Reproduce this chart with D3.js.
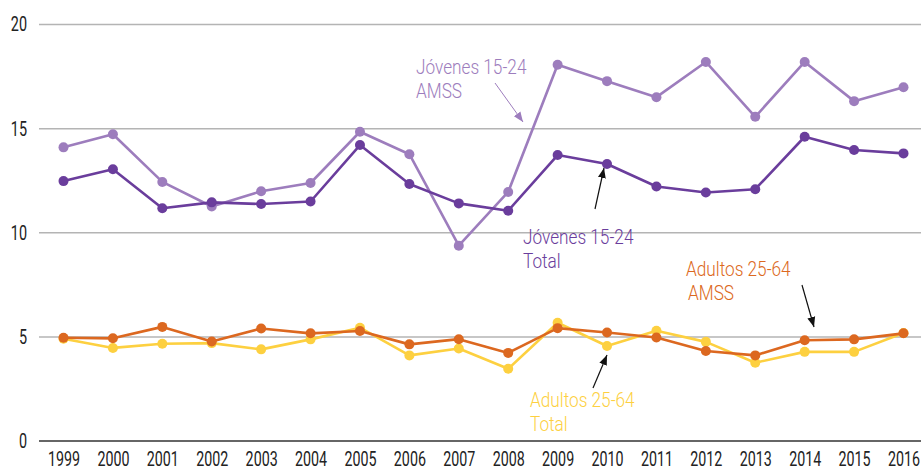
<!DOCTYPE html>
<html>
<head>
<meta charset="utf-8">
<script src="https://cdn.jsdelivr.net/npm/d3@7"></script>
<style>
  html, body { margin: 0; padding: 0; background: #fff; }
  svg { display: block; }
  text { font-family: Roboto, "DejaVu Sans", sans-serif; }
</style>
</head>
<body>
<svg id="chart" width="921" height="471"></svg>
<script>
// Years on the horizontal axis
const years = [1999, 2000, 2001, 2002, 2003, 2004, 2005, 2006, 2007, 2008,
               2009, 2010, 2011, 2012, 2013, 2014, 2015, 2016];

// Rates (%) per group
const jovenesAMSS  = [14.1, 14.73, 12.44, 11.26, 11.99, 12.39, 14.85, 13.77, 9.38, 11.96,
                      18.07, 17.28, 16.51, 18.2, 15.57, 18.2, 16.32, 16.99];
const jovenesTotal = [12.48, 13.05, 11.18, 11.46, 11.38, 11.5, 14.21, 12.34, 11.41, 11.06,
                      13.73, 13.3, 12.22, 11.93, 12.09, 14.61, 13.97, 13.81];
const adultosAMSS  = [4.96, 4.93, 5.48, 4.78, 5.4, 5.17, 5.28, 4.64, 4.89, 4.23,
                      5.42, 5.21, 4.97, 4.32, 4.11, 4.84, 4.88, 5.17];
const adultosTotal = [4.91, 4.47, 4.67, 4.7, 4.4, 4.88, 5.44, 4.11, 4.44, 3.47,
                      5.68, 4.56, 5.29, 4.76, 3.76, 4.28, 4.28, 5.19];

const yTicks = [0, 5, 10, 15, 20];

const series = [
  { name: "Jóvenes 15-24 AMSS",  values: jovenesAMSS,  color: "#9d7dbd" },
  { name: "Jóvenes 15-24 Total", values: jovenesTotal, color: "#6a3d9c" },
  { name: "Adultos 25-64 AMSS",  values: adultosAMSS,  color: "#dc6820" },
  { name: "Adultos 25-64 Total", values: adultosTotal, color: "#fdd040" }
];

const svg = d3.select("#chart");

const x = d3.scalePoint().domain(years).range([63.5, 903.5]);
const y = d3.scaleLinear().domain([0, 20]).range([441, 24.5]);

// Condensed look: squeeze glyphs horizontally around their anchor
const ySqueeze = 0.72;
const xSqueeze = 0.68;
const noteSqueeze = 0.82;

// Horizontal gridlines
const grid = svg.append("g");
grid.selectAll("line").data(yTicks).join("line")
  .attr("x1", 39).attr("x2", 921)
  .attr("y1", d => y(d)).attr("y2", d => y(d))
  .attr("stroke", d => d === 0 ? "#666" : "#b4b4b4")
  .attr("stroke-width", d => d === 0 ? 2 : 1.5);

// Y axis labels
const yAxis = d3.axisLeft(y).tickValues(yTicks).tickSize(0).tickPadding(0).tickFormat(d3.format("d"));
const gy = svg.append("g").attr("transform", "translate(27,0)").call(yAxis);
gy.select(".domain").remove();
gy.selectAll("text")
  .attr("font-size", 20).attr("fill", "#222")
  .attr("font-family", "Roboto, 'DejaVu Sans', sans-serif")
  .attr("transform", `scale(${ySqueeze},1)`);

// X axis labels
const xAxis = d3.axisBottom(x).tickSize(0).tickPadding(0).tickFormat(d3.format("d"));
const gx = svg.append("g").attr("transform", "translate(0,451)").call(xAxis);
gx.select(".domain").remove();
gx.selectAll("text")
  .attr("font-size", 21).attr("fill", "#222")
  .attr("font-family", "Roboto, 'DejaVu Sans', sans-serif")
  .attr("transform", `scale(${xSqueeze},1)`);

// Lines and markers
const line = d3.line().x((d, i) => x(years[i])).y(d => y(d));
const drawOrder = [series[3], series[2], series[0], series[1]];
drawOrder.forEach(s => {
  const g = svg.append("g");
  g.append("path").attr("d", line(s.values))
    .attr("fill", "none").attr("stroke", s.color).attr("stroke-width", 2.6)
    .attr("stroke-linejoin", "round");
  g.selectAll("circle").data(s.values).join("circle")
    .attr("cx", (d, i) => x(years[i])).attr("cy", d => y(d))
    .attr("r", 5).attr("fill", s.color);
});

// Arrowheads
const defs = svg.append("defs");
function marker(id, color, size) {
  defs.append("marker").attr("id", id)
    .attr("viewBox", "0 0 10 10").attr("refX", 10).attr("refY", 5)
    .attr("markerWidth", size).attr("markerHeight", size)
    .attr("markerUnits", "userSpaceOnUse")
    .attr("orient", "auto")
    .append("path").attr("d", "M0,1 L10,5 L0,9 Z").attr("fill", color);
}
marker("arrowBlack", "#111", 10);
marker("arrowPurple", "#9d7dbd", 10);

// Annotations
const notes = [
  { lines: ["Jóvenes 15-24", "AMSS"], x: 416, y: 74, color: "#9d7dbd", dx2: 0,
    arrow: [495, 83, 523, 122], marker: "arrowPurple", aw: 1 },
  { lines: ["Jóvenes 15-24", "Total"], x: 523, y: 244, color: "#6a3d9c", dx2: 0,
    arrow: [595, 209, 604, 168], marker: "arrowBlack", aw: 1.2 },
  { lines: ["Adultos 25-64", "AMSS"], x: 686, y: 276, color: "#dc6820", dx2: 2,
    arrow: [802, 285, 814, 327], marker: "arrowBlack", aw: 1.2 },
  { lines: ["Adultos 25-64", "Total"], x: 530, y: 407, color: "#fdd040", dx2: 0,
    arrow: [593, 388, 607, 355], marker: "arrowBlack", aw: 1.2 }
];
notes.forEach(n => {
  const g = svg.append("g")
    .attr("transform", `translate(${n.x},${n.y}) scale(${noteSqueeze},1)`);
  const t = g.append("text").attr("fill", n.color).attr("font-size", 21)
    .attr("font-weight", 300);
  n.lines.forEach((l, i) => {
    t.append("tspan").attr("x", i ? n.dx2 / noteSqueeze : 0).attr("dy", i ? 24.5 : 0).text(l);
  });
  svg.append("line")
    .attr("x1", n.arrow[0]).attr("y1", n.arrow[1])
    .attr("x2", n.arrow[2]).attr("y2", n.arrow[3])
    .attr("stroke", n.marker === "arrowPurple" ? "#9d7dbd" : "#111")
    .attr("stroke-width", n.aw)
    .attr("marker-end", `url(#${n.marker})`);
});
</script>
</body>
</html>
